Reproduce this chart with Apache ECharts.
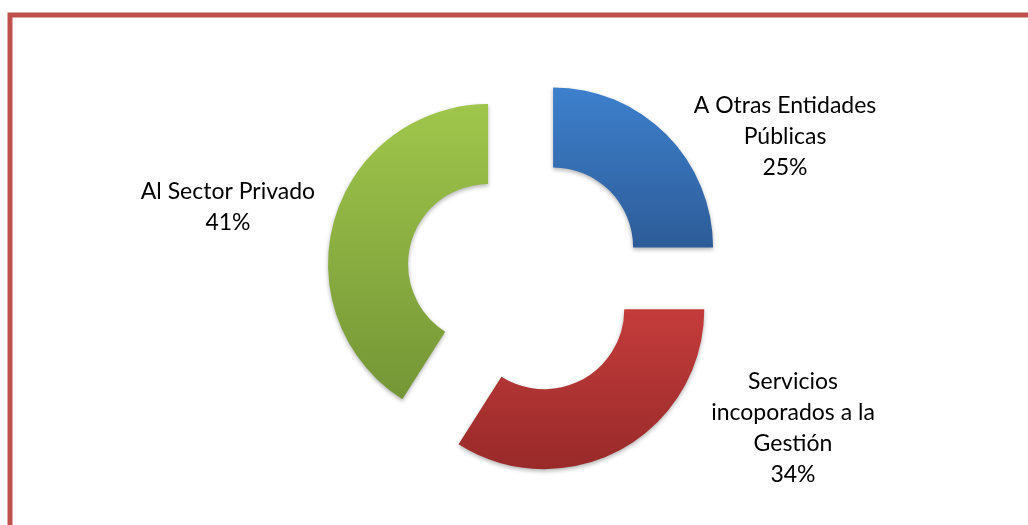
<!DOCTYPE html>
<html>
<head>
<meta charset="utf-8">
<script src="https://cdn.jsdelivr.net/npm/echarts@6/dist/echarts.min.js"></script>
<style>
html,body{margin:0;padding:0;background:#fff;}
#chart{width:1028px;height:525px;}
</style>
</head>
<body>
<div id="chart"></div>
<script>
const categories = ['A Otras Entidades\nPúblicas', 'Servicios\nincoporados a la\nGestión', 'Al Sector Privado'];
const values = [25, 34, 41];
const percentLabels = ['25%', '34%', '41%'];

const topColors = ['#3d80cd', '#c43c3b', '#9fc64b'];
const bottomColors = ['#2d5c98', '#982a29', '#749636'];
const labelPos = [[785, 137], [793, 428], [228, 207]];

const chart = echarts.init(document.getElementById('chart'));
const data = categories.map((c, i) => ({
  name: c,
  value: values[i],
  selected: true,
  itemStyle: {
    color: new echarts.graphic.LinearGradient(0, 0, 0, 1, [
      {offset: 0, color: topColors[i]},
      {offset: 1, color: bottomColors[i]}
    ])
  }
}));

const labelGraphics = categories.map((c, i) => ({
  type: 'text',
  x: labelPos[i][0],
  y: labelPos[i][1],
  style: {
    text: c + '\n' + percentLabels[i],
    fill: '#000',
    font: '23px Lato',
    lineHeight: 31,
    align: 'center',
    verticalAlign: 'middle'
  },
  z: 20
}));

chart.setOption({
  animation: false,
  graphic: [{
    type: 'rect',
    shape: {x: 10, y: 15, width: 1100, height: 700},
    style: {fill: 'none', stroke: '#c0504d', lineWidth: 5},
    z: 10
  }].concat(labelGraphics),
  series: [{
    type: 'pie',
    center: [525.5, 275],
    radius: [80, 160],
    startAngle: 90,
    clockwise: true,
    selectedMode: 'multiple',
    selectedOffset: 39,
    emphasis: {disabled: true},
    itemStyle: {
      shadowBlur: 4,
      shadowColor: 'rgba(0,0,0,0.3)',
      shadowOffsetY: 2
    },
    label: {show: false},
    labelLine: {show: false},
    data: data
  }]
});
</script>
</body>
</html>
